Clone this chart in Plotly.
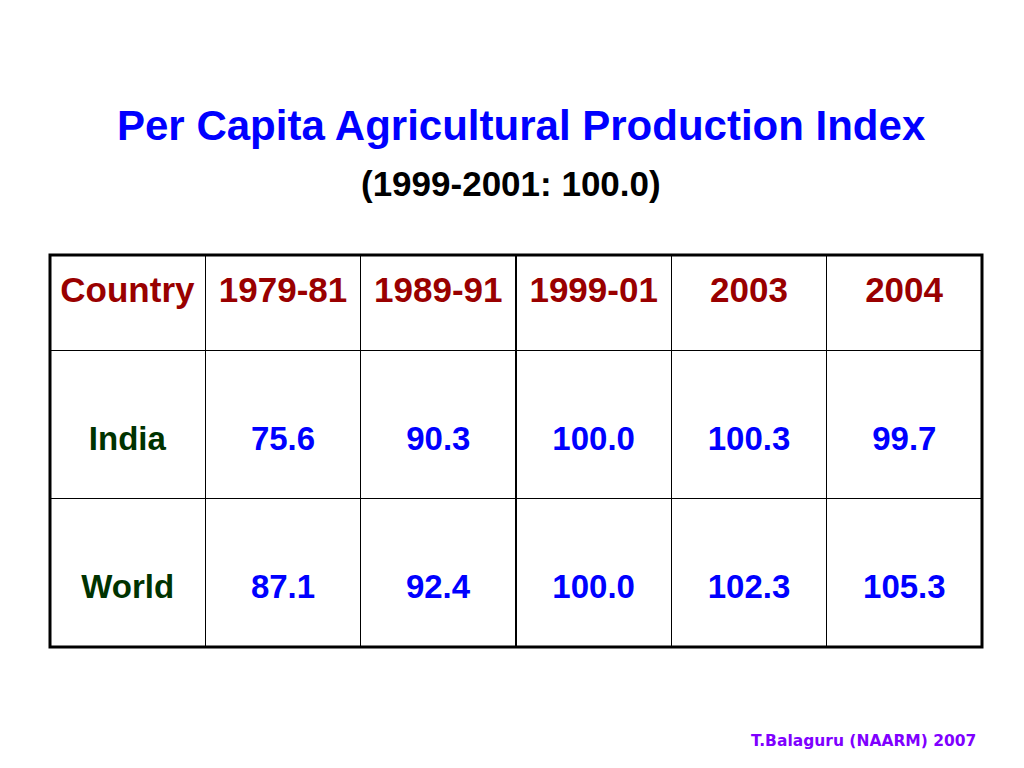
import plotly.graph_objects as go

# table data
header = ["Country", "1979-81", "1989-91", "1999-01", "2003", "2004"]
countries = ["India", "World"]
p1979_81 = [75.6, 87.1]
p1989_91 = [90.3, 92.4]
p1999_01 = [100.0, 100.0]
p2003 = [100.3, 102.3]
p2004 = [99.7, 105.3]

title = "Per Capita Agricultural Production Index"
subtitle = "(1999-2001: 100.0)"
footer = "T.Balaguru (NAARM) 2007"

FONT = "Liberation Sans, Arial"
BLUE = "#0000ff"
RED = "#990000"
GREEN = "#003300"

W, H = 1024, 768


# page pixel -> paper coords (the html body adds an 8px margin)
def px(x):
    return (x - 8) / W


def py(y):
    return 1 - (y - 8) / H


def cell_text(txt, size):
    # blank first line pushes the text down; the cell font size sets that gap,
    # the visible text gets its own size through a span
    return f'\u00a0<br><span style="font-size:{size}px"><b>{txt}</b></span>'


columns = [countries] + [[f"{v:.1f}" for v in col]
                         for col in [p1979_81, p1989_91, p1999_01, p2003, p2004]]

fig = go.Figure(go.Table(
    domain=dict(x=[px(50), px(982)], y=[0, py(255)]),
    columnwidth=[1] * 6,
    header=dict(
        values=[cell_text(h, 35) for h in header],
        height=95,
        align="center",
        fill_color="white",
        line=dict(color="black", width=1),
        font=dict(family=FONT, size=17.8, color=RED),
    ),
    cells=dict(
        values=[[cell_text(c, 33) for c in col] for col in columns],
        height=148,
        align="center",
        fill_color="white",
        line=dict(color="black", width=1),
        font=dict(family=FONT, size=41.5, color=[GREEN] + [BLUE] * 5),
    ),
))

# thick outer border of the table
fig.add_shape(type="rect", xref="paper", yref="paper",
              x0=px(50), x1=px(982), y0=py(647), y1=py(255),
              line=dict(color="black", width=3))

fig.add_annotation(text=f"<b>{title}</b>", x=px(521), y=py(125),
                   xref="paper", yref="paper", showarrow=False, yanchor="middle",
                   font=dict(family=FONT, size=42, color=BLUE))
fig.add_annotation(text=f"<b>{subtitle}</b>", x=px(511), y=py(183),
                   xref="paper", yref="paper", showarrow=False, yanchor="middle",
                   font=dict(family=FONT, size=35, color="black"))
fig.add_annotation(text=f"<b>{footer}</b>", x=px(978), y=py(741),
                   xref="paper", yref="paper", showarrow=False,
                   xanchor="right", yanchor="middle",
                   font=dict(family="DejaVu Sans, Verdana", size=15.5, color="#8000ff"))

fig.update_layout(width=W, height=H, margin=dict(l=0, r=0, t=0, b=0),
                  paper_bgcolor="white", plot_bgcolor="white")

fig.write_html("out.html")
